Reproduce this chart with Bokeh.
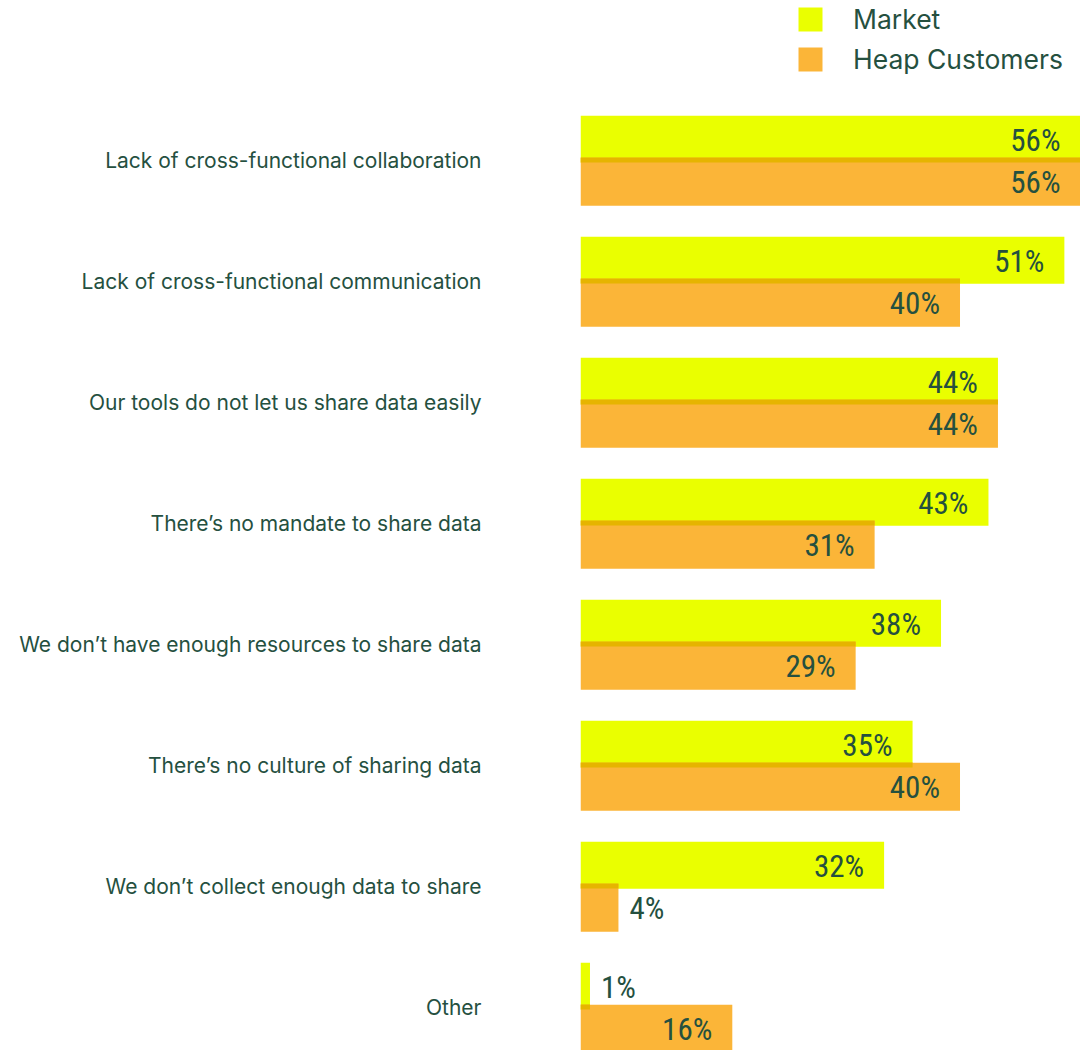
import numpy as np
from bokeh.plotting import figure
from bokeh.models import Range1d, FixedTicker, ColumnDataSource, Legend, LegendItem
from bokeh.core.properties import value
from bokeh.embed import file_html
from bokeh.resources import INLINE

categories = [
    "Lack of cross-functional collaboration",
    "Lack of cross-functional communication",
    "Our tools do not let us share data easily",
    "There\u2019s no mandate to share data",
    "We don\u2019t have enough resources to share data",
    "There\u2019s no culture of sharing data",
    "We don\u2019t collect enough data to share",
    "Other",
]
market = [56, 51, 44, 43, 38, 35, 32, 1]
heap = [56, 40, 44, 31, 29, 40, 4, 16]
series_names = ["Market", "Heap Customers"]

YELLOW = "#EAFF00"
ORANGE = "#FBB538"
OVERLAP = "#E6B400"
TEXT = "#25503F"
XMAX = 52.7
LABEL_FONT = "Inter"
NUM_FONT = ("'Roboto Condensed', 'Noto Sans Condensed', 'Open Sans Condensed', "
            "'DejaVu Sans Condensed', 'Liberation Sans Narrow', 'Arial Narrow', sans-serif")

rows = np.arange(len(categories))
m = np.array(market, dtype=float)
h = np.array(heap, dtype=float)

p = figure(width=1080, height=1050, output_backend="svg", toolbar_location=None,
           x_range=Range1d(0, XMAX), y_range=Range1d(7.355, -1.322),
           min_border_left=580, min_border_right=0, min_border_top=0, min_border_bottom=0)
p.outline_line_color = None
p.xgrid.visible = False
p.ygrid.visible = False
p.xaxis.visible = False
p.background_fill_color = "white"
p.border_fill_color = "white"

src = ColumnDataSource(dict(
    y_m=rows - 0.1756, y_h=rows + 0.1756, y_o=rows - 0.004,
    market=m, heap=h, overlap=np.minimum(m, h),
))

r_m = p.hbar(y="y_m", left=0, right="market", height=0.388, source=src,
             fill_color=YELLOW, line_color=None)
r_h = p.hbar(y="y_h", left=0, right="heap", height=0.397, source=src,
             fill_color=ORANGE, line_color=None)
p.hbar(y="y_o", left=0, right="overlap", height=0.041, source=src,
       fill_color=OVERLAP, line_color=None)

# value labels
def add_labels(vals, ys):
    vals = np.asarray(vals, dtype=float)
    inside = vals >= 10
    txt = [f"{int(v)}%" for v in vals]
    s_in = ColumnDataSource(dict(x=np.minimum(vals[inside], XMAX), y=ys[inside],
                                 t=[t for t, k in zip(txt, inside) if k]))
    s_out = ColumnDataSource(dict(x=vals[~inside], y=ys[~inside],
                                  t=[t for t, k in zip(txt, inside) if not k]))
    p.text(x="x", y="y", text="t", source=s_in, text_align="right", text_baseline="middle",
           x_offset=-20, y_offset=1, text_font=value(NUM_FONT), text_font_size="31px",
           text_color=TEXT)
    p.text(x="x", y="y", text="t", source=s_out, text_align="left", text_baseline="middle",
           x_offset=11, y_offset=1, text_font=value(NUM_FONT), text_font_size="31px",
           text_color=TEXT)

add_labels(m, rows - 0.1756)
add_labels(h, rows + 0.1756)

yax = p.yaxis[0]
yax.ticker = FixedTicker(ticks=list(rows))
yax.major_label_overrides = {int(i): c for i, c in zip(rows, categories)}
yax.axis_line_color = None
yax.major_tick_line_color = None
yax.minor_tick_line_color = None
yax.major_tick_out = 0
yax.major_tick_in = 0
yax.major_label_standoff = 99
yax.major_label_text_font = LABEL_FONT
yax.major_label_text_font_size = "21px"
yax.major_label_text_color = TEXT

legend = Legend(items=[LegendItem(label=series_names[0], renderers=[r_m]),
                       LegendItem(label=series_names[1], renderers=[r_h])],
                location=(215, 975), orientation="vertical",
                glyph_width=30, glyph_height=30, label_height=30, label_standoff=28,
                spacing=8, padding=0, margin=0,
                border_line_alpha=0, background_fill_alpha=0,
                label_text_font=LABEL_FONT, label_text_font_size="26.5px",
                label_text_color=TEXT)
p.add_layout(legend)

open("out.html", "w").write(file_html(p, INLINE))
